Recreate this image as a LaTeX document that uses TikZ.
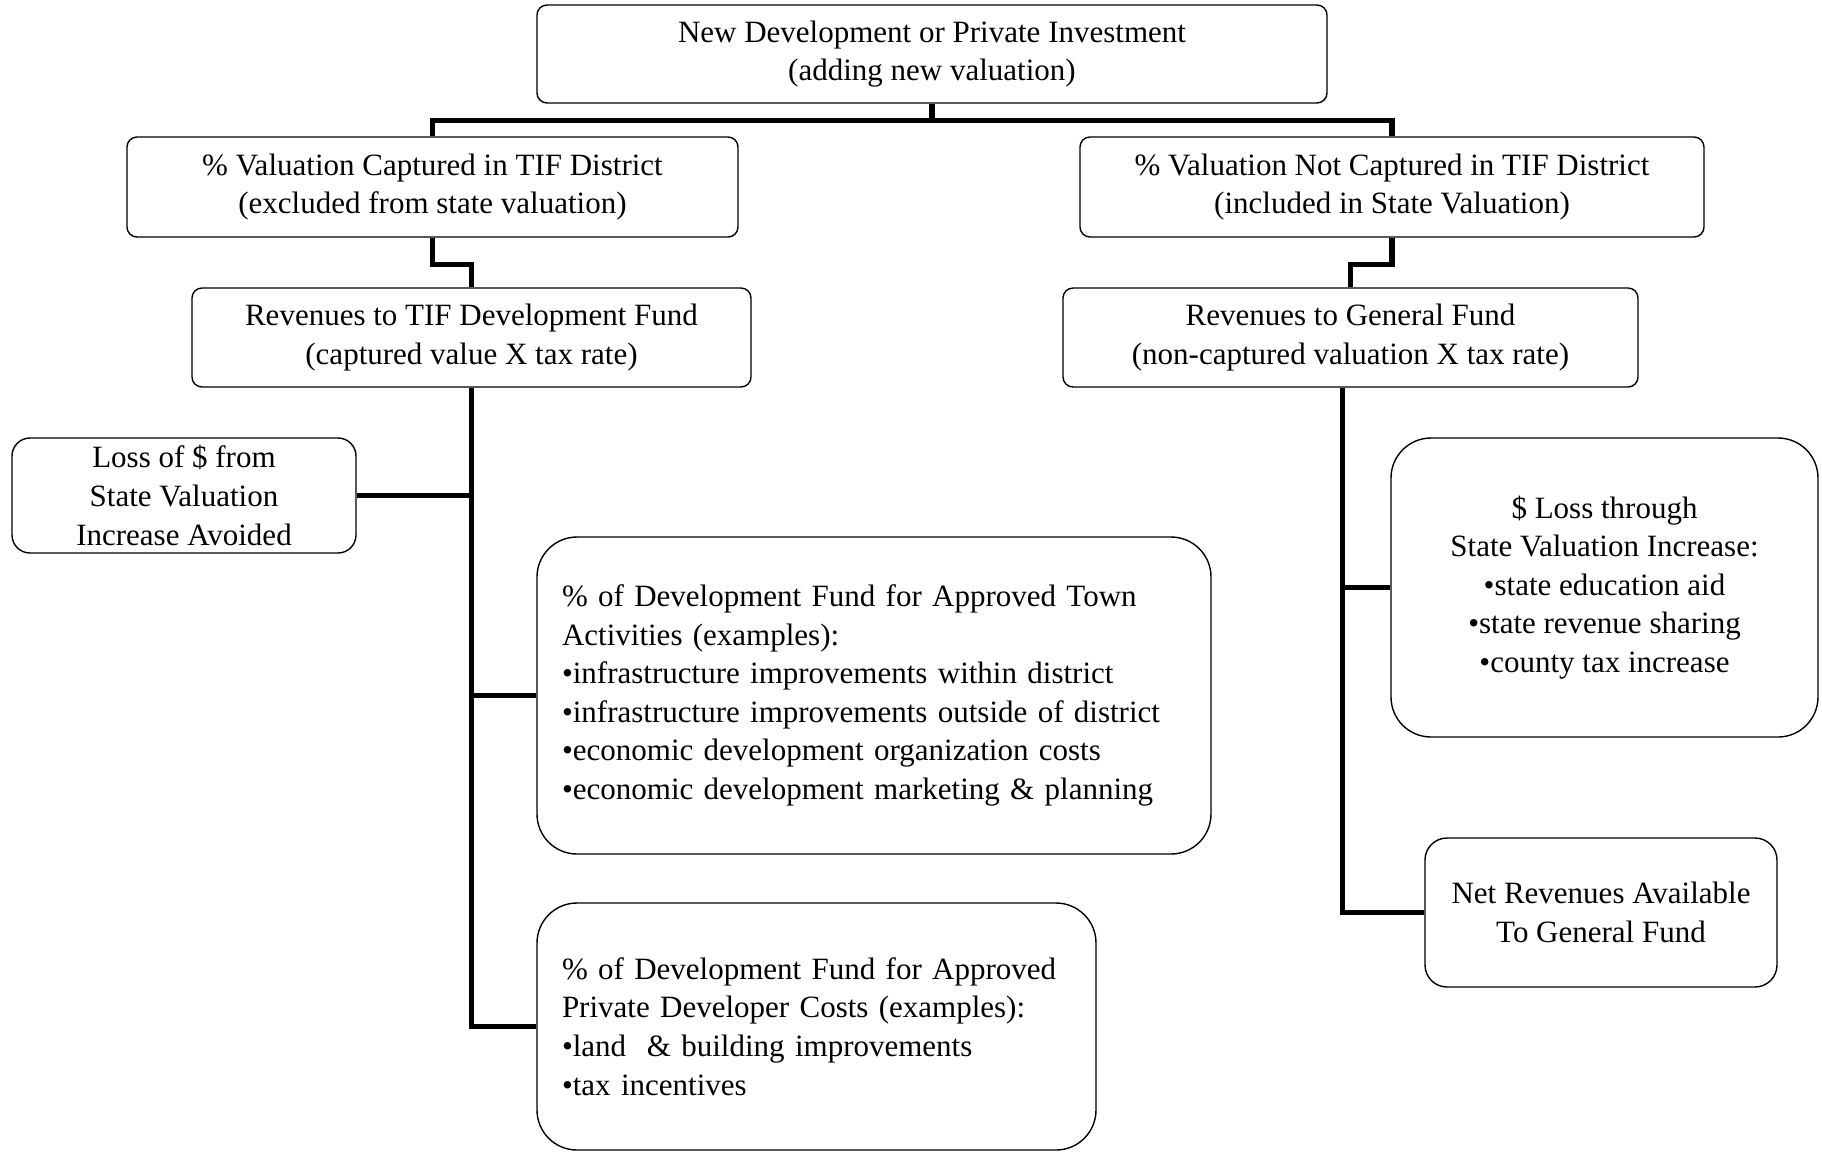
\documentclass[tikz,border=0pt]{standalone}
\usepackage{fontspec}
\setmainfont{Liberation Serif}
\usetikzlibrary{positioning}
\tikzset{
  box/.style={draw, line width=0.7pt, rounded corners=5pt, align=center, inner sep=2pt,
    font=\fontsize{15.5}{19.3}\selectfont},
  bigbox/.style={box, rounded corners=20pt},
  conn/.style={line width=2.6pt}
}
\begin{document}
\begin{tikzpicture}[x=0.5pt, y=-0.5pt]
  \useasboundingbox (0,0) rectangle (1822,1153);

  % Top of the tree
  \node[box, minimum width=395pt, minimum height=49pt] (newdev) at (932,54)
    {New Development or Private Investment\\(adding new valuation)};

  % Captured / not captured
  \node[box, minimum width=305.5pt, minimum height=50pt] (capt) at (432.5,187)
    {\% Valuation Captured in TIF District\\(excluded from state valuation)};
  \node[box, minimum width=312pt, minimum height=50pt] (notcapt) at (1392,187)
    {\% Valuation Not Captured in TIF District\\(included in State Valuation)};

  % Revenues
  \node[box, minimum width=279.5pt, minimum height=49.5pt] (tiffund) at (471.5,337.5)
    {Revenues to TIF Development Fund\\(captured value X tax rate)};
  \node[box, minimum width=287.5pt, minimum height=49.5pt] (genfund) at (1350.5,337.5)
    {Revenues to General Fund\\(non-captured valuation X tax rate)};

  % Left branch
  \node[box, rounded corners=9pt, minimum width=172pt, minimum height=57.5pt] (avoid) at (184,495.5)
    {Loss of \$ from\\State Valuation\\Increase Avoided};
  \node[bigbox, align=left, text width=312pt, inner xsep=12.5pt, minimum height=158.5pt] (town) at (874,695.5)
    {\% of Development Fund for Approved Town\\Activities (examples):\\
     •infrastructure improvements within district\\
     •infrastructure improvements outside of district\\
     •economic development organization costs\\
     •economic development marketing \& planning};
  \node[bigbox, align=left, text width=254.5pt, inner xsep=12.5pt, minimum height=123.5pt] (priv) at (816.5,1026.5)
    {\% of Development Fund for Approved\\Private Developer Costs (examples):\\
     •land \ \& building improvements\\
     •tax incentives};

  % Right branch
  \node[bigbox, minimum width=213.5pt, minimum height=149.5pt] (loss) at (1604.5,587.5)
    {\$ Loss through\\State Valuation Increase:\\•state education aid\\•state revenue sharing\\•county tax increase};
  \node[box, rounded corners=11pt, minimum width=176pt, minimum height=74.5pt] (net) at (1601,912.5)
    {Net Revenues Available\\To General Fund};

  % Connectors
  \draw[conn] (newdev.south) -- ++(0,17) coordinate (split);
  \draw[conn] (capt.north) |- (split) -| (notcapt.north);
  \draw[conn] (capt.south) -- ++(0,27) -| (tiffund.north);
  \draw[conn] (notcapt.south) -- ++(0,27) -| (genfund.north);

  \draw[conn] (tiffund.south) |- (priv.west);
  \draw[conn] (avoid.east) -- (avoid.east -| tiffund.south);
  \draw[conn] (town.west) -- (town.west -| tiffund.south);

  \coordinate (gtrunk) at ([xshift=-4pt]genfund.south);
  \draw[conn] (gtrunk) |- (net.west);
  \draw[conn] (loss.west) -- (loss.west -| gtrunk);
\end{tikzpicture}
\end{document}
